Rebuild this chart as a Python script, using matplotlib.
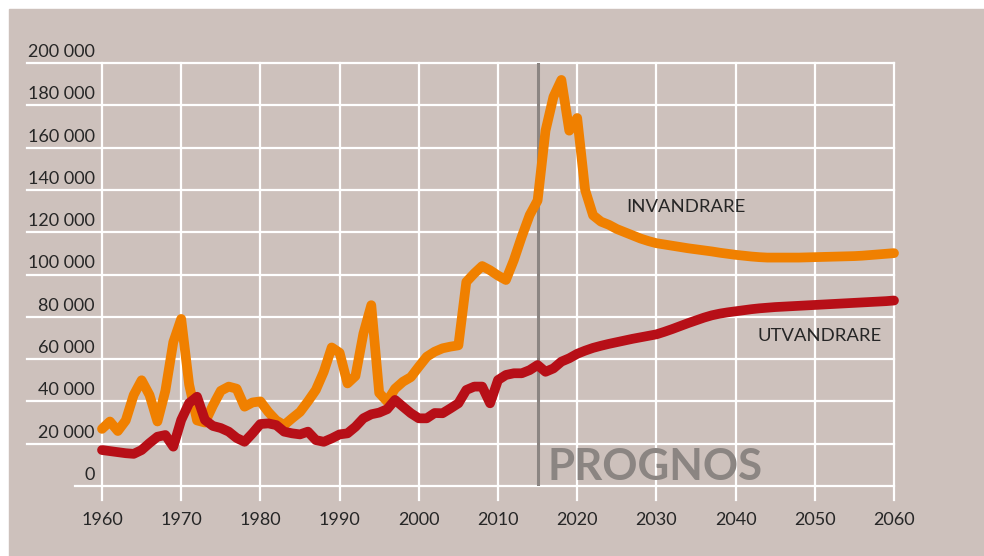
import numpy as np
import matplotlib.pyplot as plt
from matplotlib.patches import Rectangle

# years 1960 - 2060, prognosis starts 2015
years = np.arange(1960, 2061)

invandrare = [
    27000, 30500, 26000, 31000, 43000, 50000, 43000, 30500, 45000, 68000,   # 1960-69
    79000, 48000, 31000, 30000, 38000, 45000, 47000, 46000, 37500, 39500,   # 1970-79
    40000, 35000, 31000, 28800, 32000, 35000, 40000, 45400, 54000, 65500,   # 1980-89
    63000, 48500, 52000, 72000, 85500, 44000, 40000, 46000, 49300, 51500,   # 1990-99
    56400, 61100, 63500, 65100, 65900, 66500, 96500, 100500, 104000, 102000,  # 2000-09
    99500, 97400, 106800, 117900, 128100, 135000, 168000, 184000, 192000, 168000,  # 2010-19
    174000, 140000, 128000, 125000, 123500, 121500, 120000, 118500, 117000, 115800,  # 2020-29
    114800, 114200, 113600, 113000, 112400, 111900, 111400, 110900, 110300, 109800,  # 2030-39
    109300, 108900, 108500, 108200, 108000, 108000, 108000, 108000, 108000, 108100,  # 2040-49
    108200, 108300, 108400, 108500, 108600, 108700, 108900, 109200, 109500, 109800,  # 2050-59
    110100,                                                                    # 2060
]

utvandrare = [
    17000, 16500, 16000, 15500, 15200, 17000, 20300, 23300, 24100, 18600,
    31200, 39200, 42200, 31200, 28400, 27400, 25700, 22700, 20900, 24900,
    29300, 29600, 28800, 25700, 24900, 24400, 25700, 21700, 20900, 22500,
    24400, 24900, 28000, 32000, 33900, 34700, 36300, 40700, 37500, 34400,
    32000, 32000, 34500, 34400, 36700, 39100, 45400, 47000, 47000, 39100,
    50100, 52500, 53300, 53300, 54800, 57200, 54000, 55600, 58800, 60400,
    62500, 64000, 65300, 66300, 67200, 68000, 68800, 69600, 70300, 71000,
    71700, 72900, 74200, 75600, 77000, 78300, 79600, 80700, 81500, 82100,
    82600, 83100, 83600, 84000, 84300, 84600, 84800, 85000, 85200, 85400,
    85600, 85800, 86000, 86200, 86400, 86600, 86800, 87000, 87200, 87400,
    87700,
]

y_ticks = [0, 20000, 40000, 60000, 80000, 100000, 120000, 140000, 160000, 180000, 200000]
x_ticks = [1960, 1970, 1980, 1990, 2000, 2010, 2020, 2030, 2040, 2050, 2060]
prognos_year = 2015

bg = "#cdc1bc"
orange = "#f08000"
red = "#b70f17"
grey = "#8b8582"
txt = "#262626"

plt.rcParams['font.family'] = ['Lato', 'DejaVu Sans']

fig = plt.figure(figsize=(9.84, 5.56), dpi=100, facecolor="white")
fig.patches.append(Rectangle((9 / 984, 0), 1 - 9 / 984, 547 / 556,
                             transform=fig.transFigure, color=bg, zorder=-1))

ax = fig.add_axes([102 / 984, 70 / 556, 792 / 984, 423 / 556])
ax.set_xlim(1960, 2060)
ax.set_ylim(0, 200000)
ax.axis("off")

px_year = 792 / 100.0     # pixels per year
px_val = 423 / 200000.0   # pixels per unit

# horizontal grid lines, extending left under the labels
for v in y_ticks:
    start = 1960 - (75 if v > 0 else 27) / px_year
    ax.plot([start, 2060], [v, v], color="white", lw=1.6, clip_on=False, zorder=1)
    ax.text(1960 - 7 / px_year, v + 11 / px_val, "{:,}".format(v).replace(",", " "),
            ha="right", va="center", fontsize=13, color=txt)

# vertical grid lines, going a bit below zero
for yr in x_ticks:
    ax.plot([yr, yr], [-14 / px_val, 200000], color="white", lw=1.6,
            clip_on=False, zorder=1)
    ax.text(yr, -34 / px_val, str(yr), ha="center", va="center",
            fontsize=13, color=txt)

ax.plot([prognos_year, prognos_year], [0, 200000], color=grey, lw=2.2, zorder=2)
ax.text(prognos_year + 10 / px_year, 6 / px_val, "PROGNOS", fontsize=31.5,
        fontweight="bold", color=grey, ha="left", va="baseline", zorder=2)

ax.plot(years, invandrare, color=orange, lw=7, solid_capstyle="round",
        solid_joinstyle="round", zorder=3, clip_on=False)
ax.plot(years, utvandrare, color=red, lw=7, solid_capstyle="round",
        solid_joinstyle="round", zorder=4, clip_on=False)

ax.text(2026.2, 131700, "INVANDRARE", fontsize=13.3, color=txt,
        ha="left", va="center")
ax.text(2042.8, 70700, "UTVANDRARE", fontsize=13.3, color=txt,
        ha="left", va="center")

fig.savefig("out.png", dpi=100, facecolor=fig.get_facecolor())
